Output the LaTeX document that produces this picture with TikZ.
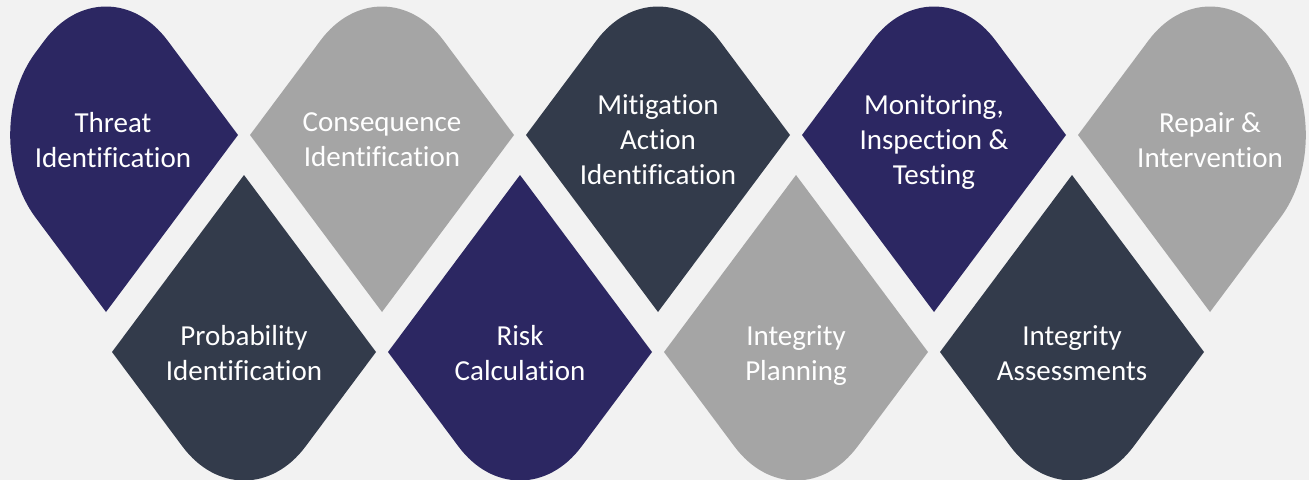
\documentclass[tikz,border=0pt]{standalone}
\usepackage{fontspec}
\setmainfont{Carlito}[Ligatures=CommonOff]
\usetikzlibrary{calc}

\definecolor{navy}{HTML}{2C2762}
\definecolor{slate}{HTML}{333B4B}
\definecolor{stone}{HTML}{A5A5A5}
\definecolor{paper}{HTML}{F2F2F2}

\tikzset{
  petaltext/.style={text=white, align=center, font=\fontsize{16.5}{19.8}\selectfont,
    execute at begin node=\strut, execute at end node=\strut},
}

% share of an edge cut away by a rounded corner, and where its handles sit
\def\petalcut{0.4665}
\def\petalctl{0.21}

% #1 name, #2/#3 centre (px), #4 colour, #5-#8 round top/right/bottom/left (1 or 0), #9 text
\newcommand{\petal}[9]{%
  \coordinate (#1-t) at (#2,#3-177);
  \coordinate (#1-r) at (#2+132,#3);
  \coordinate (#1-b) at (#2,#3+177);
  \coordinate (#1-l) at (#2-132,#3);
  \fill[#4]
    ($(#1-t)!#5*\petalcut!(#1-r)$) -- ($(#1-r)!#6*\petalcut!(#1-t)$)
    .. controls ($(#1-r)!#6*\petalctl!(#1-t)$) and ($(#1-r)!#6*\petalctl!(#1-b)$)
    .. ($(#1-r)!#6*\petalcut!(#1-b)$) -- ($(#1-b)!#7*\petalcut!(#1-r)$)
    .. controls ($(#1-b)!#7*\petalctl!(#1-r)$) and ($(#1-b)!#7*\petalctl!(#1-l)$)
    .. ($(#1-b)!#7*\petalcut!(#1-l)$) -- ($(#1-l)!#8*\petalcut!(#1-b)$)
    .. controls ($(#1-l)!#8*\petalctl!(#1-b)$) and ($(#1-l)!#8*\petalctl!(#1-t)$)
    .. ($(#1-l)!#8*\petalcut!(#1-t)$) -- ($(#1-t)!#5*\petalcut!(#1-l)$)
    .. controls ($(#1-t)!#5*\petalctl!(#1-l)$) and ($(#1-t)!#5*\petalctl!(#1-r)$)
    .. ($(#1-t)!#5*\petalcut!(#1-r)$) -- cycle;
  \node[petaltext] (#1) at (#2+7*#8,#3+6+4*#5) {#9};
}

\begin{document}
\begin{tikzpicture}[x=0.02cm, y=-0.02cm]
  \path[use as bounding box, fill=paper] (0,0) rectangle (1309,480);

  % upper row, pointing down
  \petal{threat}{106}{135}{navy}{1}{0}{0}{1}{Threat\\Identification}
  \petal{consequence}{382}{135}{stone}{1}{0}{0}{0}{Consequence\\Identification}
  \petal{mitigation}{658}{135}{slate}{1}{0}{0}{0}{Mitigation\\Action\\Identification}
  \petal{monitoring}{934}{135}{navy}{1}{0}{0}{0}{Monitoring,\\Inspection \&\\Testing}
  \petal{repair}{1210}{135}{stone}{1}{1}{0}{0}{Repair \&\\Intervention}

  % lower row, pointing up
  \petal{probability}{244}{352}{slate}{0}{0}{1}{0}{Probability\\Identification}
  \petal{risk}{520}{352}{navy}{0}{0}{1}{0}{Risk\\Calculation}
  \petal{planning}{796}{352}{stone}{0}{0}{1}{0}{Integrity\\Planning}
  \petal{assessments}{1072}{352}{slate}{0}{0}{1}{0}{Integrity\\Assessments}
\end{tikzpicture}
\end{document}
